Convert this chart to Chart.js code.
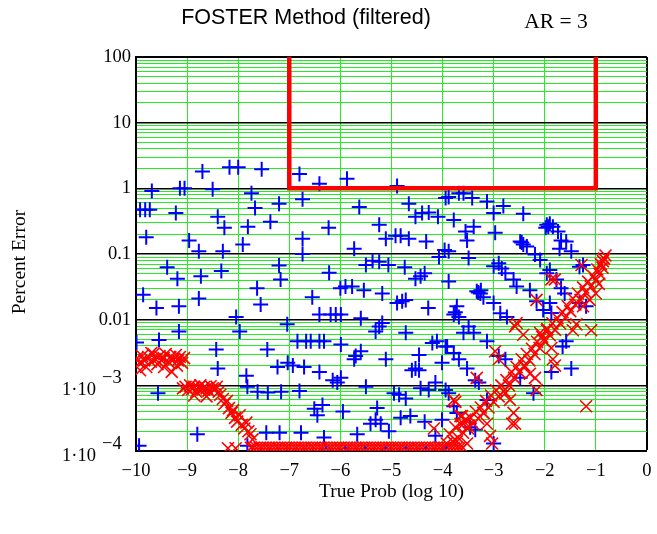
<!DOCTYPE html>
<html>
<head>
<meta charset="utf-8">
<script src="https://cdn.jsdelivr.net/npm/chart.js@4.4.1/dist/chart.umd.min.js"></script>
<style>
  html, body { margin: 0; padding: 0; background: #fff; }
</style>
</head>
<body>
<canvas id="foster" width="657" height="534"></canvas>
<script>
// Texte
const titleText = 'FOSTER Method (filtered)';
const arText = 'AR = 3';
const xTitle = 'True Prob (log 10)';
const yTitle = 'Percent Error';

// Axes
const xTickValues = [-10, -9, -8, -7, -6, -5, -4, -3, -2, -1, 0];
const yDecades = [1e-4, 1e-3, 0.01, 0.1, 1, 10, 100];
const yTickLabels = ['1·10^−4', '1·10^−3', '0.01', '0.1', '1', '10', '100'];

// Cadre rouge (limite)
const boxX = [-7, -7, -1, -1];
const boxY = [100, 1, 1, 100];

// Points bleus (+) : [log10 prob, erreur %]
const bluePoints = [
    [-8.70, 1.8], [-8.17, 2.1], [-8.0, 2.1], [-9.69, 0.91], [-9.14, 1.0], [-9.05, 1.0], [-8.5, 0.97],
    [-9.92, 0.47], [-9.82, 0.47], [-9.73, 0.47], [-9.22, 0.42], [-8.4, 0.37], [-8.27, 0.25], [-9.8, 0.18],
    [-8.96, 0.16], [-8.77, 0.11], [-8.3, 0.11], [-9.39, 0.063], [-9.19, 0.042], [-8.73, 0.046], [-8.33, 0.055],
    [-9.86, 0.024], [-9.6, 0.015], [-9.16, 0.016], [-8.77, 0.021], [-8.04, 0.011], [-9.16, 0.0066],
    [-9.55, 0.0049], [-9.99, 0.0045], [-8.43, 0.0035], [-8.4, 0.0018], [-9.57, 0.00076], [-8.8, 0.00018],
    [-9.94, 0.00012],
    [-7.54, 1.95], [-6.8, 1.66], [-6.41, 1.17], [-5.87, 1.4], [-7.74, 0.84], [-7.67, 0.5], [-7.2, 0.58],
    [-6.74, 0.68], [-7.37, 0.31], [-7.81, 0.26], [-6.23, 0.25], [-6.74, 0.17], [-7.91, 0.14], [-6.74, 0.1],
    [-7.2, 0.067], [-7.17, 0.041], [-6.22, 0.052], [-6.0, 0.03], [-7.63, 0.03], [-7.56, 0.017], [-6.55, 0.022],
    [-7.97, 0.0066], [-7.04, 0.0085], [-6.41, 0.012], [-6.19, 0.012], [-6.09, 0.012], [-5.99, 0.012],
    [-7.43, 0.0035], [-6.84, 0.0047], [-6.67, 0.0047], [-6.58, 0.0047], [-6.41, 0.0047], [-6.32, 0.0047],
    [-5.99, 0.0042], [-7.23, 0.0019], [-7.03, 0.0022], [-6.93, 0.002], [-6.71, 0.0019], [-6.41, 0.0016],
    [-7.84, 0.0014], [-6.15, 0.0012], [-6.06, 0.0011], [-5.99, 0.0013], [-7.62, 0.0008], [-7.42, 0.00078],
    [-7.16, 0.0008], [-6.8, 0.00082], [-7.82, 0.00095], [-6.51, 0.00044], [-6.45, 0.00035], [-6.35, 0.0005],
    [-5.95, 0.0004], [-7.45, 0.00019], [-7.19, 0.00019], [-6.77, 0.00019], [-6.32, 0.00016], [-7.82, 0.00012],
    [-4.89, 1.09], [-5.63, 0.52], [-4.66, 0.58], [-4.53, 0.37], [-4.4, 0.42], [-4.27, 0.43], [-4.09, 0.37],
    [-3.94, 0.71], [-5.24, 0.28], [-5.11, 0.17], [-4.92, 0.19], [-4.82, 0.19], [-4.66, 0.17], [-4.32, 0.155],
    [-5.73, 0.12], [-4.07, 0.09], [-3.96, 0.115], [-5.5, 0.068], [-5.37, 0.079], [-5.24, 0.076], [-5.06, 0.068],
    [-4.74, 0.063], [-4.53, 0.042], [-4.43, 0.046], [-4.35, 0.051], [-5.9, 0.032], [-5.77, 0.032], [-5.54, 0.028],
    [-5.18, 0.025], [-4.89, 0.018], [-4.79, 0.019], [-4.72, 0.02], [-4.28, 0.015], [-5.6, 0.0105],
    [-5.31, 0.0066], [-5.24, 0.0079], [-5.18, 0.0089], [-4.72, 0.0063], [-4.2, 0.0044], [-4.11, 0.0047],
    [-3.94, 0.0039], [-5.7, 0.0028], [-5.6, 0.0033], [-5.73, 0.0025], [-5.11, 0.0025], [-4.53, 0.0018],
    [-4.6, 0.0017], [-4.46, 0.0017], [-4.46, 0.0029], [-4.01, 0.0022], [-5.5, 0.00095], [-4.95, 0.00076],
    [-4.85, 0.00072], [-4.72, 0.00063], [-4.43, 0.0009], [-4.27, 0.00085], [-4.14, 0.0011], [-3.94, 0.00085],
    [-5.28, 0.00045], [-5.41, 0.00026], [-5.31, 0.0003], [-5.21, 0.00026], [-5.05, 0.0002], [-4.82, 0.00032],
    [-4.63, 0.00034], [-4.35, 0.00028], [-4.01, 0.0003], [-5.67, 0.00018], [-4.14, 0.00017],
    [-3.88, 0.74], [-3.68, 0.84], [-3.59, 0.84], [-3.42, 0.71], [-3.13, 0.63], [-2.81, 0.54], [-3.0, 0.42],
    [-2.42, 0.41], [-3.78, 0.33], [-3.39, 0.26], [-3.55, 0.22], [-3.52, 0.16], [-2.97, 0.21], [-1.96, 0.28],
    [-1.93, 0.26], [-1.9, 0.29], [-1.98, 0.25], [-2.48, 0.155], [-2.42, 0.14], [-2.45, 0.15], [-2.35, 0.13],
    [-2.19, 0.098], [-2.09, 0.081], [-3.88, 0.11], [-3.49, 0.087], [-3.0, 0.065], [-2.9, 0.072], [-2.84, 0.06],
    [-2.77, 0.051], [-2.61, 0.041], [-2.55, 0.032], [-2.29, 0.028], [-1.96, 0.051], [-3.88, 0.038],
    [-3.33, 0.027], [-3.3, 0.026], [-3.26, 0.025], [-3.25, 0.028], [-3.2, 0.022], [-3.0, 0.018], [-3.72, 0.016],
    [-3.78, 0.012], [-3.75, 0.013], [-3.68, 0.011], [-2.87, 0.0125], [-2.74, 0.011], [-2.16, 0.019],
    [-2.03, 0.014], [-3.49, 0.0079], [-3.39, 0.0063], [-3.59, 0.0063], [-3.13, 0.0047], [-3.91, 0.0039],
    [-3.78, 0.0031], [-3.68, 0.0025], [-3.52, 0.0018], [-2.9, 0.0028], [-2.77, 0.0025], [-3.36, 0.0012],
    [-3.29, 0.0011], [-2.48, 0.0013], [-2.22, 0.00076], [-3.88, 0.00076], [-3.78, 0.00048], [-3.72, 0.00038],
    [-3.13, 0.0006], [-3.46, 0.00023], [-3.36, 0.00021], [-3.0, 0.00013],
    [-1.84, 0.26], [-1.74, 0.22], [-1.68, 0.16], [-1.58, 0.155], [-1.48, 0.11], [-1.71, 0.12], [-1.9, 0.057],
    [-1.32, 0.064], [-1.25, 0.068], [-1.77, 0.041], [-1.68, 0.03], [-1.61, 0.025], [-1.19, 0.016],
    [-1.32, 0.018], [-1.9, 0.018], [-1.87, 0.0126], [-1.58, 0.0047], [-1.65, 0.0039], [-1.48, 0.0018],
    [-1.87, 0.0016]
];

// Petits points bleus visibles dans la bande rouge du bas
const blueFloorX = [-6.28, -5.9, -5.51, -5.11, -4.72, -4.33, -3.93];
const floorY = 1.12e-4;

// Croix rouges (x)
const redLeft = [
    [-9.98, 0.0026], [-9.93, 0.0022], [-9.92, 0.0017], [-9.88, 0.0028], [-9.84, 0.0024], [-9.8, 0.0019],
    [-9.76, 0.0027], [-9.71, 0.0023], [-9.7, 0.0031], [-9.66, 0.003], [-9.62, 0.0025], [-9.58, 0.0021],
    [-9.54, 0.0028], [-9.5, 0.0024], [-9.46, 0.0026], [-9.45, 0.0019], [-9.42, 0.003], [-9.37, 0.0023],
    [-9.33, 0.0027], [-9.3, 0.0016], [-9.26, 0.0025], [-9.22, 0.0029], [-9.2, 0.002], [-9.18, 0.0024],
    [-9.14, 0.0027], [-9.1, 0.0022], [-9.06, 0.0026]
];
const redStep = [
    [-9.08, 0.0009], [-9.03, 0.00095], [-8.98, 0.00085], [-8.94, 0.001], [-8.9, 0.00088], [-8.86, 0.00095],
    [-8.86, 0.0007], [-8.82, 0.0008], [-8.78, 0.00092], [-8.74, 0.001], [-8.7, 0.00087], [-8.66, 0.00095],
    [-8.62, 0.0009], [-8.62, 0.00068], [-8.58, 0.00083], [-8.54, 0.00097], [-8.5, 0.0009], [-8.46, 0.00086],
    [-8.42, 0.00095], [-8.38, 0.0008], [-8.35, 0.00072], [-8.3, 0.00062], [-8.27, 0.00052], [-8.22, 0.00058],
    [-8.18, 0.00045], [-8.13, 0.00038], [-8.1, 0.00042], [-8.06, 0.00032], [-8.02, 0.00028], [-7.97, 0.00035],
    [-7.93, 0.00025], [-7.88, 0.00022], [-7.84, 0.00027], [-7.8, 0.0002], [-7.76, 0.00018], [-7.72, 0.00015],
    [-8.2, 0.00011], [-8.05, 0.00011]
];
const redFloorX = [
    -7.75, -7.7, -7.64, -7.58, -7.53, -7.47, -7.41, -7.36, -7.3, -7.24, -7.19, -7.13, -7.07, -7.02, -6.96,
    -6.9, -6.85, -6.79, -6.73, -6.68, -6.62, -6.56, -6.51, -6.45, -6.39, -6.34, -6.28, -6.22, -6.17, -6.11,
    -6.05, -6.0, -5.94, -5.88, -5.83, -5.77, -5.71, -5.66, -5.6, -5.54, -5.49, -5.43, -5.37, -5.32, -5.26,
    -5.2, -5.15, -5.09, -5.03, -4.98, -4.92, -4.86, -4.81, -4.75, -4.69, -4.64, -4.58, -4.52, -4.47, -4.41,
    -4.35, -4.3, -4.24, -4.18, -4.13, -4.07, -4.01, -3.96, -3.9, -3.84, -3.78, -3.72, -3.66, -3.6
];
const redDiag = [
    [-3.92, 0.00013], [-3.86, 0.00018], [-3.8, 0.00014], [-3.75, 0.00023], [-3.7, 0.00016], [-3.65, 0.00026],
    [-3.6, 0.00019], [-3.55, 0.0003], [-3.5, 0.00022], [-3.45, 0.00032], [-3.4, 0.00026], [-3.35, 0.0004],
    [-3.3, 0.00031], [-3.25, 0.00046], [-3.2, 0.00038], [-3.15, 0.00058], [-3.1, 0.00046], [-3.05, 0.0007],
    [-3.0, 0.00056], [-2.95, 0.00084], [-2.9, 0.00068], [-2.85, 0.001], [-2.8, 0.00082], [-2.75, 0.0012],
    [-2.7, 0.001], [-2.65, 0.0016], [-2.6, 0.0013], [-2.55, 0.0019], [-2.5, 0.0016], [-2.45, 0.0025],
    [-2.4, 0.002], [-2.35, 0.003], [-2.3, 0.0024], [-2.25, 0.0036], [-2.2, 0.003], [-2.15, 0.0046],
    [-2.1, 0.0037], [-2.05, 0.0055], [-2.0, 0.0047], [-1.95, 0.0072], [-1.9, 0.0058], [-1.85, 0.0088],
    [-1.8, 0.007], [-1.75, 0.0105], [-1.7, 0.0088], [-1.65, 0.013], [-1.6, 0.0107], [-1.55, 0.016],
    [-1.5, 0.0135], [-1.45, 0.021], [-1.4, 0.017], [-1.35, 0.025], [-1.3, 0.02], [-1.25, 0.031],
    [-1.2, 0.026], [-1.15, 0.038], [-1.1, 0.032], [-1.05, 0.046], [-1.0, 0.04], [-0.97, 0.058],
    [-0.93, 0.05], [-0.9, 0.07], [-0.87, 0.062], [-0.84, 0.085], [-0.81, 0.095], [-0.86, 0.078]
];
const redSpread = [
    [-2.64, 0.00026], [-2.61, 0.00038], [-2.68, 0.0006], [-2.77, 0.00076], [-3.07, 0.00017], [-3.03, 0.00013],
    [-3.13, 0.00026], [-3.2, 0.00038], [-2.16, 0.00085], [-2.19, 0.0013], [-2.29, 0.0015], [-2.39, 0.0019],
    [-1.96, 0.0069], [-2.03, 0.0049], [-2.09, 0.0063], [-1.87, 0.041], [-2.16, 0.02], [-2.55, 0.0089],
    [-2.42, 0.0059], [-2.97, 0.0033], [-2.9, 0.0025], [-3.33, 0.0013], [-3.78, 0.0006], [-3.65, 0.00034],
    [-3.59, 0.00026], [-3.72, 0.00014], [-3.52, 0.00013], [-1.8, 0.041], [-1.28, 0.068], [-2.58, 0.0079],
    [-2.58, 0.00026], [-1.09, 0.0069], [-1.19, 0.00048], [-1.45, 0.0069], [-1.84, 0.0025], [-1.8, 0.002],
    [-1.87, 0.0037], [-1.38, 0.0085], [-1.0, 0.025], [-0.94, 0.035], [-1.25, 0.016], [-1.12, 0.02],
    [-4.17, 0.00022], [-3.75, 0.00056], [-3.62, 0.00034], [-3.49, 0.00024]
];

// Construction des données pour Chart.js
const toXY = p => ({ x: p[0], y: p[1] });
const redData = redLeft.map(toXY)
    .concat(redStep.map(toXY))
    .concat(redFloorX.map(x => ({ x: x, y: floorY })))
    .concat(redDiag.map(toXY))
    .concat(redSpread.map(toXY));

// Lignes de grille log : 1..9 par décade
const yGrid = [];
yDecades.forEach((d, i) => {
    if (i === yDecades.length - 1) { yGrid.push(d); return; }
    for (let k = 1; k <= 9; k++) yGrid.push(k * d);
});
const isDecade = v => Math.abs(Math.log10(v) - Math.round(Math.log10(v))) < 1e-6;
const decadeIndex = v => yDecades.findIndex(d => Math.abs(Math.log10(d) - Math.log10(v)) < 1e-6);

const serif = 'Liberation Serif';
const gridGreen = '#22ee22';
const tickSize = 18.5;

// Textes : titre, AR, titres d'axes, étiquettes 1·10^n
const textPlugin = {
    id: 'fosterTexts',
    afterDraw(chart) {
        const ctx = chart.ctx;
        const ys = chart.scales.y;
        const xs = chart.scales.x;
        ctx.save();
        ctx.fillStyle = '#000';
        ctx.textBaseline = 'middle';
        ctx.textAlign = 'center';
        ctx.font = '21.5px "Liberation Sans"';
        ctx.fillText(titleText, 306, 18);
        ctx.font = '21.5px "' + serif + '"';
        ctx.fillText(arText, 556, 22);
        ctx.font = '19.5px "' + serif + '"';
        ctx.fillText(xTitle, (xs.left + xs.right) / 2, 492);

        ctx.font = tickSize + 'px "' + serif + '"';
        yTickLabels.forEach((lab, i) => {
            if (lab.indexOf('^') < 0) return;
            const parts = lab.split('^');
            const py = ys.getPixelForValue(yDecades[i]);
            ctx.textAlign = 'right';
            ctx.fillText(parts[0], 96, py + 5);
            ctx.textAlign = 'left';
            ctx.fillText(parts[1], 102, py - 7);
        });

        ctx.font = '19.5px "' + serif + '"';
        ctx.translate(20, 262);
        ctx.rotate(-Math.PI / 2);
        ctx.textAlign = 'center';
        ctx.fillText(yTitle, 0, 0);
        ctx.restore();
    }
};

const ctxFoster = document.getElementById('foster').getContext('2d');

const fosterChart = new Chart(ctxFoster, {
    type: 'scatter',
    data: {
        datasets: [
            {
                label: 'Limite',
                data: boxX.map((x, i) => ({ x: x, y: boxY[i] })),
                showLine: true,
                borderColor: '#ff0000',
                borderWidth: 4.5,
                borderJoinStyle: 'miter',
                pointRadius: 0,
                fill: false,
                clip: 0
            },
            {
                label: 'Plancher',
                data: blueFloorX.map(x => ({ x: x, y: floorY })),
                pointStyle: 'circle',
                pointRadius: 1.3,
                borderWidth: 0,
                backgroundColor: '#0000ff',
                borderColor: '#0000ff',
                clip: 0
            },
            {
                label: 'Filtré',
                data: redData,
                pointStyle: 'crossRot',
                pointRadius: 8.5,
                borderWidth: 1.6,
                borderColor: '#ff0000',
                backgroundColor: '#ff0000',
                clip: 0
            },
            {
                label: 'Brut',
                data: bluePoints.map(toXY),
                pointStyle: 'cross',
                pointRadius: 7.5,
                borderWidth: 2,
                borderColor: '#0000ff',
                backgroundColor: '#0000ff',
                clip: 0
            }
        ]
    },
    options: {
        responsive: false,
        animation: false,
        events: [],
        layout: { padding: { left: 0, right: 8, top: 57, bottom: 0 } },
        plugins: {
            legend: { display: false },
            tooltip: { enabled: false }
        },
        scales: {
            x: {
                type: 'linear',
                min: -10,
                max: 0,
                afterBuildTicks: s => { s.ticks = xTickValues.map(v => ({ value: v })); },
                afterFit: s => { s.height = 83; s.paddingLeft = 0; s.paddingRight = 0; },
                ticks: {
                    color: '#000',
                    font: { family: serif, size: tickSize },
                    padding: 9,
                    maxRotation: 0,
                    autoSkip: false,
                    callback: v => (v < 0 ? '\u2212' + Math.abs(v) : String(v))
                },
                grid: {
                    drawTicks: false,
                    color: c => (c.tick && c.tick.value === 0 ? '#000' : gridGreen),
                    lineWidth: c => (c.tick && c.tick.value === 0 ? 2 : 1)
                },
                border: { color: '#000', width: 2 }
            },
            y: {
                type: 'logarithmic',
                min: 1e-4,
                max: 100,
                afterBuildTicks: s => { s.ticks = yGrid.map(v => ({ value: v })); },
                afterFit: s => { s.width = 136; },
                ticks: {
                    color: '#000',
                    font: { family: serif, size: tickSize },
                    padding: 5,
                    autoSkip: false,
                    callback: v => {
                        const i = decadeIndex(v);
                        if (i < 0) return '';
                        return yTickLabels[i].indexOf('^') < 0 ? yTickLabels[i] : '';
                    }
                },
                grid: {
                    drawTicks: false,
                    color: c => (c.tick && isDecade(c.tick.value) ? '#000' : gridGreen),
                    lineWidth: c => {
                        if (!c.tick) return 1;
                        if (Math.abs(c.tick.value - 100) < 1e-6) return 2;
                        return isDecade(c.tick.value) ? 1.6 : 1;
                    }
                },
                border: { color: '#000', width: 2 }
            }
        }
    },
    plugins: [textPlugin]
});
</script>
</body>
</html>
